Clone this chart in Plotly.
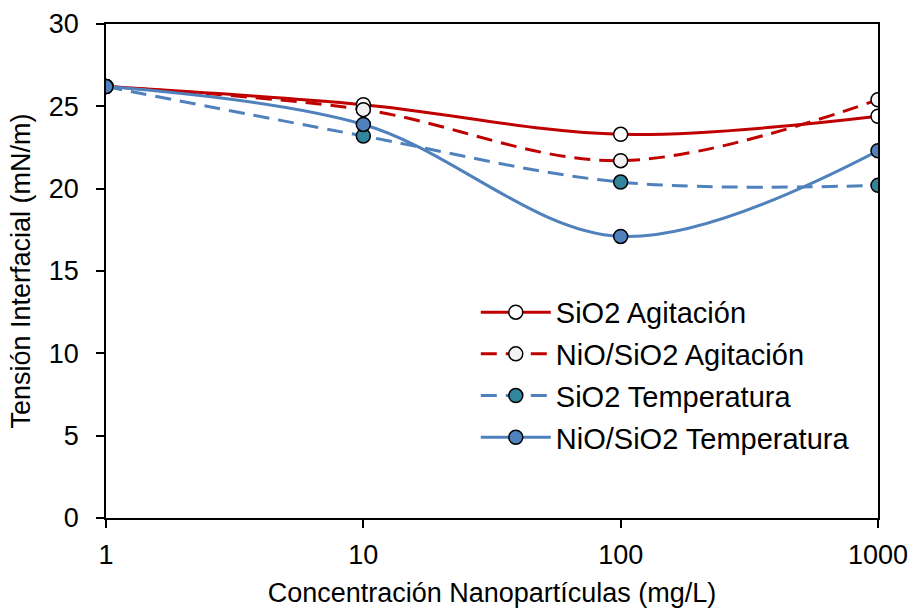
import plotly.graph_objects as go

# Nanoparticle concentration (mg/L) and interfacial tension (mN/m)
concentracion = [1, 10, 100, 1000]
sio2_agitacion = [26.2, 25.1, 23.3, 24.4]
niosio2_agitacion = [26.2, 24.8, 21.7, 25.4]
sio2_temperatura = [26.2, 23.2, 20.4, 20.2]
niosio2_temperatura = [26.2, 23.9, 17.1, 22.3]

x_ticks = [1, 10, 100, 1000]
y_ticks = [0, 5, 10, 15, 20, 25, 30]

RED = "#C00000"
BLUE = "#4F81BD"

series = [
    ("SiO2 Agitación", sio2_agitacion, RED, "solid", "#FFFFFF"),
    ("NiO/SiO2 Agitación", niosio2_agitacion, RED, "16px,9px", "#F2F2F2"),
    ("SiO2 Temperatura", sio2_temperatura, BLUE, "16px,9px", "#31859C"),
    ("NiO/SiO2 Temperatura", niosio2_temperatura, BLUE, "solid", BLUE),
]

fig = go.Figure()
for i, (name, vals, color, dash, fill) in enumerate(series):
    fig.add_trace(go.Scatter(
        x=concentracion, y=vals, name=name, mode="lines+markers",
        legendgroup=f"g{i}",
        line=dict(color=color, width=3, dash=dash, shape="spline", smoothing=1.0),
        marker=dict(size=14, color=fill, line=dict(color="#000000", width=1.5)),
    ))

font_family = "Liberation Sans, Arial, sans-serif"

fig.update_layout(
    width=914, height=608,
    margin=dict(l=106, r=36, t=24, b=90),
    paper_bgcolor="white", plot_bgcolor="white",
    font=dict(family=font_family, size=27, color="#000000"),
    showlegend=True,
    legend=dict(
        x=0.479, y=0.468, xanchor="left", yanchor="top",
        font=dict(size=29), itemwidth=70,
        bgcolor="rgba(0,0,0,0)", tracegroupgap=1,
        traceorder="grouped",
    ),
    xaxis=dict(
        type="log", range=[0, 3], tickvals=x_ticks,
        ticktext=[str(v) for v in x_ticks],
        showgrid=False, zeroline=False,
        showline=True, linecolor="#000000", linewidth=1.5, mirror=True,
        ticks="outside", ticklen=8, tickwidth=1.5, tickcolor="#000000",
        tickfont=dict(size=27), ticklabelstandoff=4,
        title=dict(text="Concentración Nanopartículas (mg/L)", font=dict(size=27), standoff=20),
        automargin=False,
    ),
    yaxis=dict(
        range=[0, 30], tickvals=y_ticks,
        showgrid=False, zeroline=False,
        showline=True, linecolor="#000000", linewidth=1.5, mirror=True,
        ticks="outside", ticklen=8, tickwidth=1.5, tickcolor="#000000",
        tickfont=dict(size=27), ticklabelstandoff=12,
        title=dict(text="Tensión Interfacial (mN/m)", font=dict(size=27), standoff=10),
        automargin=False,
    ),
)

fig.write_html("out.html")
